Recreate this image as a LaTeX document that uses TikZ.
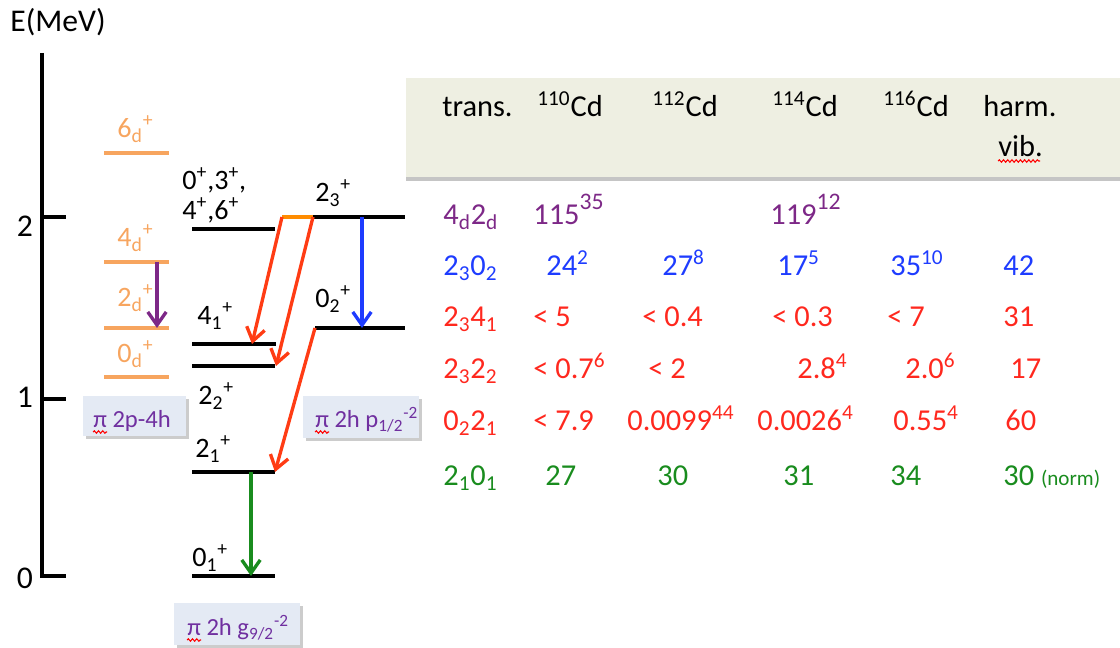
\documentclass[tikz,border=0pt]{standalone}
\usepackage{fontspec}
\setmainfont{Carlito}
\usetikzlibrary{arrows.meta,shadows,decorations.pathmorphing}
\definecolor{lvlorange}{RGB}{247,165,95}
\definecolor{segorange}{RGB}{255,140,0}
\definecolor{tpurple}{RGB}{125,40,135}
\definecolor{bpurple}{RGB}{112,48,160}
\definecolor{tblue}{RGB}{30,60,255}
\definecolor{tred}{RGB}{255,40,30}
\definecolor{ared}{RGB}{255,60,20}
\definecolor{tgreen}{RGB}{25,140,30}
\definecolor{boxfill}{RGB}{228,234,244}
\definecolor{hdrfill}{RGB}{238,239,226}
\newcommand\sbs[1]{\textsubscript{#1}}
\newcommand\sps[1]{\textsuperscript{#1}}
\newcommand\bigsps[1]{\raisebox{0.5em}{\fontsize{13.5}{15}\selectfont #1}}
\begin{document}
\begin{tikzpicture}[x=0.02cm,y=-0.02cm,
  lbl/.style={font=\fontsize{16}{19}\selectfont, inner sep=0pt, anchor=base west},
  tbl/.style={font=\fontsize{17.3}{20}\selectfont, inner sep=0pt, anchor=base west},
  boxtxt/.style={font=\fontsize{14}{16}\selectfont, inner sep=0pt, anchor=base west, text=bpurple},
  lvlline/.style={line width=2.1pt},
  olvl/.style={lvlline, draw=lvlorange},
  blvl/.style={lvlline, draw=black},
  trans/.style={line width=1.9pt, -{Straight Barb[length=7.5pt,width=10.5pt,line width=1.9pt]}},
  infobox/.style={fill=boxfill, inner sep=0pt, drop shadow={shadow xshift=1.6pt, shadow yshift=-1.6pt, fill=black!40, opacity=0.5}},
  squig/.style={draw=red, line width=0.6pt, decorate, decoration={snake, amplitude=0.7pt, segment length=2.4pt}}
]
\useasboundingbox (0,0) rectangle (1120,648);
% header box
\node[fill=hdrfill, minimum width=14.4cm, minimum height=1.98cm, inner sep=0pt,
  drop shadow={shadow xshift=0pt, shadow yshift=-2.2pt, fill=black!45, opacity=0.5}] (hdr) at (766,127.5) {};
% axis
\coordinate (axtop) at (42,53);
\coordinate (ax0) at (42,576);
\coordinate (t0) at (66,576);
\coordinate (ax1) at (42,399);
\coordinate (t1) at (66,399);
\coordinate (ax2) at (42,217);
\coordinate (t2) at (66,217);
\draw[line width=2pt] (axtop) -- (ax0) -- (t0);
\draw[line width=2pt] (ax1) -- (t1);
\draw[line width=2pt] (ax2) -- (t2);
\node[lbl, font=\fontsize{18}{21}\selectfont] (elab) at (10,32) {E(MeV)};
\node[lbl, anchor=base, font=\fontsize{18}{21}\selectfont] (a2) at (25,237) {2};
\node[lbl, anchor=base, font=\fontsize{18}{21}\selectfont] (a1) at (25,408) {1};
\node[lbl, anchor=base, font=\fontsize{18}{21}\selectfont] (a0) at (25,589) {0};
% orange levels
\coordinate (o6a) at (104,153); \coordinate (o6b) at (169,153);
\coordinate (o4a) at (104,262); \coordinate (o4b) at (169,262);
\coordinate (o2a) at (104,328); \coordinate (o2b) at (169,328);
\coordinate (o0a) at (104,377); \coordinate (o0b) at (169,377);
\draw[olvl] (o6a) -- (o6b);
\draw[olvl] (o4a) -- (o4b);
\draw[olvl] (o2a) -- (o2b);
\draw[olvl] (o0a) -- (o0b);
\node[lbl, text=lvlorange] (l6d) at (117,138) {6\sbs{d}\sps{+}};
\node[lbl, text=lvlorange] (l4d) at (117,247) {4\sbs{d}\sps{+}};
\node[lbl, text=lvlorange] (l2d) at (117,307) {2\sbs{d}\sps{+}};
\node[lbl, text=lvlorange] (l0d) at (117,363) {0\sbs{d}\sps{+}};
\coordinate (p4) at (157,262); \coordinate (p2) at (157,328);
\draw[trans, tpurple] (p4) -- (p2);
% black levels (left)
\coordinate (bma) at (192,229); \coordinate (bmb) at (275,229);
\coordinate (b41a) at (192,344); \coordinate (b41b) at (276,344);
\coordinate (b22a) at (192,366); \coordinate (b22b) at (275,366);
\coordinate (b21a) at (192,472); \coordinate (b21b) at (275,472);
\coordinate (b01a) at (192,576); \coordinate (b01b) at (275,576);
\draw[blvl] (bma) -- (bmb);
\draw[blvl] (b41a) -- (b41b);
\draw[blvl] (b22a) -- (b22b);
\draw[blvl] (b21a) -- (b21b);
\draw[blvl] (b01a) -- (b01b);
\node[lbl] (lm1) at (182,190) {0\sps{+},3\sps{+},};
\node[lbl] (lm2) at (182,220) {4\sps{+},6\sps{+}};
\node[lbl] (l41) at (197,325) {4\sbs{1}\sps{+}};
\node[lbl] (l22) at (198,405) {2\sbs{2}\sps{+}};
\node[lbl] (l21) at (195,458) {2\sbs{1}\sps{+}};
\node[lbl] (l01) at (192,567) {0\sbs{1}\sps{+}};
% right levels
\coordinate (r23a) at (282,217); \coordinate (r23m) at (313,217); \coordinate (r23b) at (405,217);
\coordinate (r02a) at (315,328); \coordinate (r02b) at (405,328);
\draw[lvlline, segorange] (r23a) -- (r23m);
\draw[blvl] (r23m) -- (r23b);
\draw[blvl] (r02a) -- (r02b);
\node[lbl] (l23) at (315,202) {2\sbs{3}\sps{+}};
\node[lbl] (l02) at (315,308) {0\sbs{2}\sps{+}};
% transitions
\coordinate (bl1) at (362,217); \coordinate (bl2) at (362,328);
\draw[trans, tblue] (bl1) -- (bl2);
\coordinate (ra2) at (252,344);
\coordinate (rb2) at (276,366);
\coordinate (rc2) at (275,472);
\draw[trans, ared] (r23a) -- (ra2);
\draw[trans, ared] (r23m) -- (rb2);
\draw[trans, ared] (r02a) -- (rc2);
\coordinate (g1) at (251,472); \coordinate (g2) at (251,576);
\draw[trans, tgreen] (g1) -- (g2);
% info boxes
\node[infobox, minimum width=2.06cm, minimum height=0.8cm] (box1) at (134.5,416) {};
\node[infobox, minimum width=2.32cm, minimum height=0.84cm] (box2) at (361,417) {};
\node[infobox, minimum width=2.52cm, minimum height=0.84cm] (box3) at (237,624) {};
\node[boxtxt] (bt1) at (93,428) {π 2p-4h};
\node[boxtxt] (bt2) at (315,428) {π 2h p\sbs{1/2}\sps{-2}};
\node[boxtxt] (bt3) at (187,636) {π 2h g\sbs{9/2}\sps{-2}};
\coordinate (s1a) at (93,432); \coordinate (s1b) at (107,432);
\coordinate (s2a) at (315,432); \coordinate (s2b) at (329,432);
\coordinate (s3a) at (187,640); \coordinate (s3b) at (201,640);
\draw[squig] (s1a) -- (s1b);
\draw[squig] (s2a) -- (s2b);
\draw[squig] (s3a) -- (s3b);
% header
\node[tbl] (h0) at (442,117) {trans.};
\node[tbl] (h1) at (537,117) {\sps{110}Cd};
\node[tbl] (h2) at (652,117) {\sps{112}Cd};
\node[tbl] (h3) at (772,117) {\sps{114}Cd};
\node[tbl] (h4) at (883,117) {\sps{116}Cd};
\node[tbl] (h5) at (983,117) {harm.};
\node[tbl] (h6) at (998,157) {vib.};
\coordinate (s4a) at (998,161); \coordinate (s4b) at (1040,161);
\draw[squig] (s4a) -- (s4b);
% rows
\begin{scope}[every node/.append style={text=tpurple}]
\node[tbl] (r1c0) at (443,225) {4\sbs{d}2\sbs{d}};
\node[tbl] (r1c1) at (533,225) {115\bigsps{35}};
\node[tbl] (r1c3) at (770,225) {119\bigsps{12}};
\end{scope}
\begin{scope}[every node/.append style={text=tblue}]
\node[tbl] (r2c0) at (443,276) {2\sbs{3}0\sbs{2}};
\node[tbl] (r2c1) at (546,276) {24\sps{2}};
\node[tbl] (r2c2) at (662,276) {27\sps{8}};
\node[tbl] (r2c3) at (777,276) {17\sps{5}};
\node[tbl] (r2c4) at (890,276) {35\sps{10}};
\node[tbl] (r2c5) at (1003,276) {42};
\end{scope}
\begin{scope}[every node/.append style={text=tred}]
\node[tbl] (r3c0) at (443,327) {2\sbs{3}4\sbs{1}};
\node[tbl] (r3c1) at (533,327) {< 5};
\node[tbl] (r3c2) at (642,327) {< 0.4};
\node[tbl] (r3c3) at (772,327) {< 0.3};
\node[tbl] (r3c4) at (887,327) {< 7};
\node[tbl] (r3c5) at (1003,327) {31};
\node[tbl] (r4c0) at (443,379) {2\sbs{3}2\sbs{2}};
\node[tbl] (r4c1) at (533,379) {< 0.7\sps{6}};
\node[tbl] (r4c2) at (648,379) {< 2};
\node[tbl] (r4c3) at (797,379) {2.8\sps{4}};
\node[tbl] (r4c4) at (905,379) {2.0\sps{6}};
\node[tbl] (r4c5) at (1010,379) {17};
\node[tbl] (r5c0) at (443,431) {0\sbs{2}2\sbs{1}};
\node[tbl] (r5c1) at (533,431) {< 7.9};
\node[tbl] (r5c2) at (627,431) {0.0099\sps{44}};
\node[tbl] (r5c3) at (757,431) {0.0026\sps{4}};
\node[tbl] (r5c4) at (893,431) {0.55\sps{4}};
\node[tbl] (r5c5) at (1005,431) {60};
\end{scope}
\begin{scope}[every node/.append style={text=tgreen}]
\node[tbl] (r6c0) at (443,486) {2\sbs{1}0\sbs{1}};
\node[tbl] (r6c1) at (545,486) {27};
\node[tbl] (r6c2) at (657,486) {30};
\node[tbl] (r6c3) at (783,486) {31};
\node[tbl] (r6c4) at (890,486) {34};
\node[tbl] (r6c5) at (1003,486) {30 {\fontsize{12}{14}\selectfont(norm)}};
\end{scope}
\end{tikzpicture}
\end{document}
